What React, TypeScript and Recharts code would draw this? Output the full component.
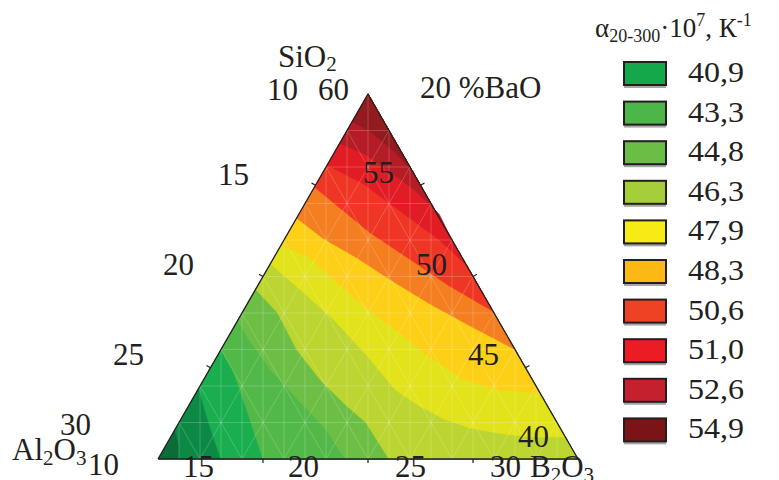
import { ScatterChart, Scatter, XAxis, YAxis } from 'recharts';

const W = 779;
const H = 480;

// contour boundaries as [SiO2, B2O3] points (BaO = 20 %, Al2O3 = the rest), lowest level first
const b12 = [[41.6, 10], [40.8, 10.6], [40, 11]];
const b11 = [[43.9, 10], [42.8, 10.8], [41.5, 11.8], [40, 13]];
const b10 = [[46.0, 10], [44.9, 11.1], [43.8, 12.0], [41.9, 13.5], [40, 15]];
const b9 = [[47.6, 10], [46.5, 11.1], [44.9, 12.9], [43.2, 15.1], [41.6, 17.2], [40, 18.9]];
const b8 = [[49.3, 10], [48.0, 11.7], [46.0, 13.6], [44.3, 15.6], [43.0, 17.4], [42.0, 18.9], [40, 21]];
const b7 = [[50.7, 10], [49.3, 12.1], [47.6, 14.6], [45.6, 17.2], [43.8, 19.4], [42.9, 21.0], [42.2, 22.5], [41.7, 24.0], [41.4, 25.6], [41.2, 27.1], [41.2, 28.8]];
const b6 = [[51.7, 10], [51.1, 11.6], [50.0, 13.2], [48.7, 15.1], [47.3, 17.4], [45.6, 20.1], [44.4, 22.3], [43.8, 24.2], [43.6, 26.4]];
const b5 = [[53.2, 10], [52.1, 11.8], [51.0, 14.0], [49.8, 16.2], [48.5, 18.7], [47.3, 21.2], [46.0, 24.0]];
const b4 = [[54.9, 10], [54.0, 11.4], [52.4, 13.9], [50.9, 16.6], [49.5, 19.1], [48.1, 21.9]];
const b3 = [[56.1, 10], [55.1, 12.2], [53.6, 14.7], [52.0, 17.4], [50.6, 19.4], [49.0, 21.0]];
const b2 = [[57.3, 10], [56.7, 11.5], [55.8, 13.1], [54.7, 14.9], [53.4, 16.7], [52.1, 17.9]];
const b1 = [[58.5, 10], [57.9, 11.2], [56.8, 12.9], [55.8, 14.2], [54.6, 15.4]];

const boundaries = [b12, b11, b10, b9, b8, b7, b6, b5, b4, b3, b2, b1];
const bandColors = [
  '#0c6c38', '#0c8a45', '#1aae4f', '#52b848', '#6dbe45', '#bcd531', '#e2e31b',
  '#fdd017', '#f47e20', '#ef3624', '#e21c24', '#b51c25', '#931a1e',
];

const legendValues = ['40,9', '43,3', '44,8', '46,3', '47,9', '48,3', '50,6', '51,0', '52,6', '54,9'];
const legendColors = ['#15a84a', '#4cb748', '#6abd45', '#a6ce39', '#f6eb14', '#fdb913', '#ef4123', '#ec1c24', '#c4202e', '#7a1416'];

// 5 % ticks on the three sides
const sideTicks = [45, 50, 55];
const baseTicks = [15, 20, 25];

const toXY = ([s, b]: number[]) => ({ x: b - 10 + (s - 40) / 2, y: s - 40 });
const APEX = [60, 10];
const LEFT = [40, 10];
const RIGHT = [40, 30];

const regions = [
  [LEFT, RIGHT, APEX].map(toXY),
  ...boundaries.map(line => {
    const pts = [...line];
    if (line[line.length - 1][0] === 40) pts.push(RIGHT);
    pts.push(APEX);
    return pts.map(toXY);
  }),
];

// light mesh of the ternary grid (step 2 %), plus verticals
const mesh: { x: number; y: number }[] = [];
for (let v = 42; v < 60; v += 2) mesh.push(toXY([v, 10]), toXY([v, 70 - v]));
for (let v = 12; v < 30; v += 2) mesh.push(toXY([40, v]), toXY([70 - v, v]));
for (let v = 12; v < 30; v += 2) mesh.push(toXY([40, 40 - v]), toXY([70 - v, 10]));
for (let k = 1; k < 20; k++) mesh.push({ x: k, y: 0 }, { x: k, y: k <= 10 ? 2 * k : 40 - 2 * k });

const ticks: { x: number; y: number }[] = [];
const shift = (p: { x: number; y: number }, dx: number, dy: number) => ({ x: p.x + dx, y: p.y + dy });
sideTicks.forEach(s => {
  const l = toXY([s, 10]);
  const r = toXY([s, 70 - s]);
  ticks.push(l, shift(l, -0.19, 0.12), r, shift(r, 0.19, 0.12));
});
baseTicks.forEach(b => {
  const p = toXY([40, b]);
  ticks.push(p, shift(p, 0, -0.22));
});

const outline = [LEFT, RIGHT, APEX, LEFT].map(toXY);

const noDot = () => <g />;

const segs = (stroke: string, opacity: number, width: number) => (props: any) => {
  const p = props.points || [];
  let d = '';
  for (let i = 0; i + 1 < p.length; i += 2) d += `M${p[i].x},${p[i].y}L${p[i + 1].x},${p[i + 1].y}`;
  return <path d={d} stroke={stroke} strokeOpacity={opacity} strokeWidth={width} fill="none" />;
};

const SERIF = "'Liberation Serif', serif";
const INK = '#231f20';

const labels = [
  { t: '10', x: 267, y: 100 }, { t: '60', x: 318, y: 100 }, { t: '20 %BaO', x: 420, y: 98 },
  { t: '15', x: 218, y: 185 }, { t: '20', x: 163, y: 275 }, { t: '25', x: 113, y: 365 }, { t: '30', x: 60, y: 435 },
  { t: '10', x: 88, y: 475 },
  { t: '15', x: 183, y: 477 }, { t: '20', x: 288, y: 477 }, { t: '25', x: 395, y: 477 }, { t: '30', x: 490, y: 477 },
  { t: '55', x: 363, y: 183 }, { t: '50', x: 416, y: 275 }, { t: '45', x: 468, y: 365 }, { t: '40', x: 518, y: 447 },
];

export default function App() {
  return (
    <div style={{ position: 'absolute', left: 0, top: 0, width: W, height: H, background: '#fff' }}>
      <ScatterChart width={W} height={H} margin={{ top: 0, right: 0, bottom: 0, left: 0 }}>
        <XAxis type="number" dataKey="x" domain={[-158 / 21, (W - 158) / 21]} allowDataOverflow hide />
        <YAxis type="number" dataKey="y" domain={[-(H - 459) / 18.25, 459 / 18.25]} allowDataOverflow hide />
        {regions.map((pts, i) => (
          <Scatter
            key={i}
            data={pts}
            isAnimationActive={false}
            shape={noDot}
            line={{ fill: bandColors[i], stroke: bandColors[i], strokeWidth: 0.6 }}
          />
        ))}
        <Scatter data={mesh} isAnimationActive={false} shape={noDot} line={segs('#ffffff', 0.25, 0.8)} />
        <Scatter data={ticks} isAnimationActive={false} shape={noDot} line={segs(INK, 1, 1.2)} />
        <Scatter data={outline} isAnimationActive={false} shape={noDot} line={{ fill: 'none', stroke: INK, strokeWidth: 1.3 }} />
      </ScatterChart>
      <svg width={W} height={H} style={{ position: 'absolute', left: 0, top: 0, pointerEvents: 'none', fontFamily: SERIF }}>
        <g fill={INK} fontSize={31}>
          {labels.map((l, i) => (
            <text key={i} x={l.x} y={l.y}>{l.t}</text>
          ))}
          <text x={278} y={67}>SiO<tspan fontSize={21} dy={4}>2</tspan></text>
          <text x={12} y={460}>Al<tspan fontSize={21} dy={5}>2</tspan><tspan dy={-5}>O</tspan><tspan fontSize={21} dy={5}>3</tspan></text>
          <text x={530} y={477}>B<tspan fontSize={21} dy={5}>2</tspan><tspan dy={-5}>O</tspan><tspan fontSize={21} dy={5}>3</tspan></text>
        </g>
        <g fill={INK}>
          <text x={595} y={37} fontSize={27}>
            α<tspan fontSize={18} dy={5}>20-300</tspan><tspan dy={-5}>·10</tspan><tspan fontSize={18} dy={-11}>7</tspan>
            <tspan dy={11}>, К</tspan><tspan fontSize={18} dy={-11}>-1</tspan>
          </text>
          {legendValues.map((v, i) => {
            const top = 62 + i * 39.6;
            return (
              <g key={v}>
                <rect x={624} y={top + 23} width={42} height={3} fill="#a7a7a7" />
                <rect x={624} y={top} width={42} height={23} fill={legendColors[i]} stroke={INK} strokeWidth={2} />
                <text x={688} y={top + 20} fontSize={29} textLength={56} lengthAdjust="spacingAndGlyphs">{v}</text>
              </g>
            );
          })}
        </g>
      </svg>
    </div>
  );
}
